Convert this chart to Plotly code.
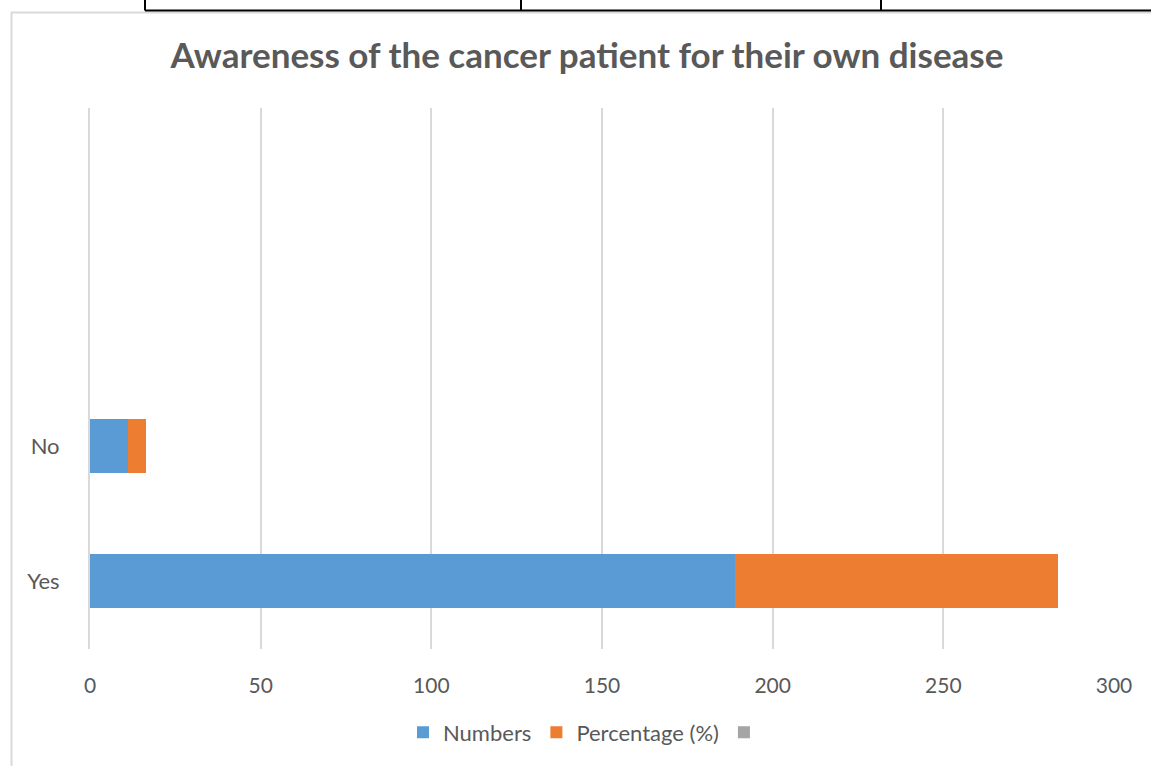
import plotly.graph_objects as go

categories = ["Yes", "No"]
numbers = [189, 11]
percentage = [94.5, 5.5]
x_ticks = [0, 50, 100, 150, 200, 250, 300]

W, H = 1151, 766
L, R, T, B = 90, 1114, 108, 652

def px(x):
    return (x - L) / (R - L)

def py(y):
    return (B - y) / (B - T)

fig = go.Figure()
fig.add_trace(go.Bar(y=categories, x=numbers, name="Numbers", orientation="h",
                     marker=dict(color="#5B9BD5", line=dict(width=0))))
fig.add_trace(go.Bar(y=categories, x=percentage, name="Percentage (%)", orientation="h",
                     marker=dict(color="#ED7D31", line=dict(width=0))))
fig.add_trace(go.Bar(y=categories, x=[None, None], name=" ", orientation="h",
                     marker=dict(color="#A5A5A5", line=dict(width=0))))

shapes = [
    dict(type="rect", xref="paper", yref="paper", x0=px(11.5), x1=px(1170), y0=py(12), y1=py(790),
         line=dict(color="#D9D9D9", width=2), fillcolor="rgba(0,0,0,0)", layer="below"),
    dict(type="line", xref="paper", yref="paper", x0=px(145), x1=px(1170), y0=py(10), y1=py(10),
         line=dict(color="#000000", width=2)),
    dict(type="line", xref="paper", yref="paper", x0=px(145), x1=px(145), y0=py(-10), y1=py(10),
         line=dict(color="#000000", width=2)),
    dict(type="line", xref="paper", yref="paper", x0=px(521), x1=px(521), y0=py(-10), y1=py(10),
         line=dict(color="#000000", width=2)),
    dict(type="line", xref="paper", yref="paper", x0=px(881), x1=px(881), y0=py(-10), y1=py(10),
         line=dict(color="#000000", width=2)),
]

fig.update_layout(
    width=W, height=H,
    margin=dict(l=L, r=W - R, t=T, b=H - B),
    paper_bgcolor="white", plot_bgcolor="white",
    barmode="stack", bargap=0.6,
    font=dict(family="Lato", color="#595959", size=21),
    title=dict(text="<b>Awareness of the cancer patient for their own disease</b>",
               x=587 / W, xanchor="center", y=1 - 56 / H, yanchor="middle",
               font=dict(family="Lato", size=35, color="#595959")),
    xaxis=dict(range=[0, 300], tickvals=x_ticks, showgrid=True, gridcolor="#D9D9D9",
               gridwidth=2, zeroline=False, showline=False, ticks="", ticklen=0,
               ticklabelstandoff=22, tickfont=dict(size=21, color="#595959")),
    yaxis=dict(type="category", categoryarray=categories, range=[-0.5, 3.5],
               showgrid=False, zeroline=False, showline=True, linecolor="#D9D9D9", linewidth=2,
               ticks="", ticklabelstandoff=24, tickfont=dict(size=22, color="#595959")),
    legend=dict(orientation="h", x=px(589), xanchor="center", y=py(736), yanchor="middle",
                font=dict(size=22, color="#595959"), traceorder="normal", itemwidth=30),
    shapes=shapes,
    showlegend=True,
    hovermode=False,
)

fig.write_html("out.html", config={"displayModeBar": False, "staticPlot": True},
               post_script="document.body.style.margin='0';document.body.style.overflow='hidden';")
